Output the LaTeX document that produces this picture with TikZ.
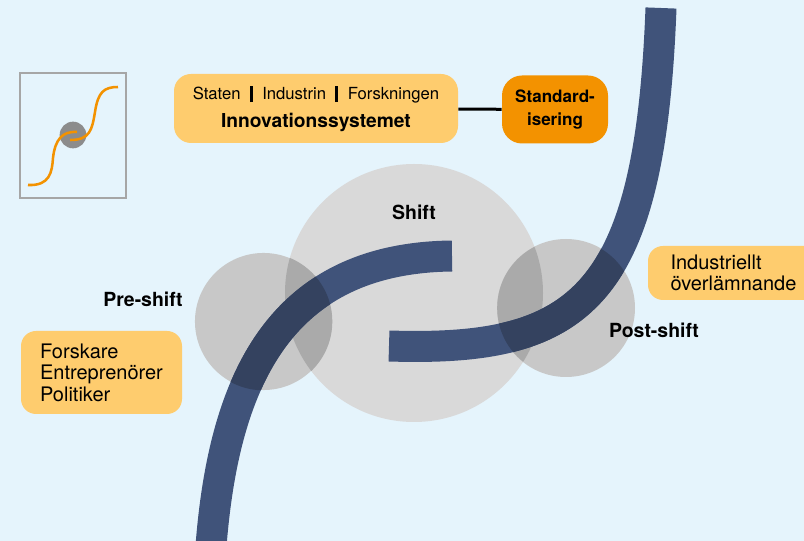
\documentclass[tikz,border=0pt]{standalone}
\usepackage{fontspec}
\setmainfont{TeX Gyre Heros}
\usetikzlibrary{positioning}

\definecolor{bgblue}{RGB}{229,244,252}
\definecolor{boxyellow}{RGB}{254,204,110}
\definecolor{stdorange}{RGB}{243,146,0}
\definecolor{bandblue}{RGB}{64,83,122}
\definecolor{banddark}{RGB}{52,66,95}
\definecolor{shiftgray}{RGB}{217,217,217}
\definecolor{phasegray}{RGB}{200,200,200}
\definecolor{overlapgray}{RGB}{170,170,170}
\definecolor{framegray}{RGB}{166,166,166}
\definecolor{dotgray}{RGB}{140,140,140}

\newcommand{\barsep}{\hspace{7pt}\rule[-2pt]{2.25pt}{12.4pt}\hspace{7pt}}
\newcommand{\bandA}{(211,546) .. controls (224,380) and (280,258) .. (452,256)}
\newcommand{\bandB}{(389,346) .. controls (580,352) and (650,300) .. (661,8)}

\begin{document}
\begin{tikzpicture}[x=0.75pt, y=-0.75pt,
  box/.style={fill=boxyellow, rounded corners=11.25pt, align=left,
              font=\fontsize{15}{16.2}\selectfont},
  stdbox/.style={fill=stdorange, rounded corners=15pt, align=center,
                 minimum width=79.5pt, minimum height=51pt,
                 font=\bfseries\fontsize{12.8}{17}\selectfont},
  phase/.style={font=\bfseries\fontsize{14.6}{16}\selectfont},
  band/.style={line width=23.25pt, bandblue},
  link/.style={line width=2.25pt, black},
  curve/.style={line width=1.9pt, stdorange}
]
\useasboundingbox (0,0) rectangle (804,541);
\clip (0,0) rectangle (804,541);
\fill[bgblue] (0,0) rectangle (804,541);

% small s-curve icon
\draw[framegray, line width=1.1pt] (20,73) rectangle (126,198);
\fill[dotgray] (73,135) circle[radius=10pt];
\draw[curve] (28,185) .. controls (50,186) and (52,172) .. (53,158)
  .. controls (55,140) and (62,131) .. (77,132);
\draw[curve] (70,140) .. controls (90,140) and (92,130) .. (95,112)
  .. controls (98,92) and (104,87) .. (118,87);

% actors and systems
\node[box, rounded corners=12.75pt, align=center, minimum width=213pt,
      minimum height=51.75pt] (innov) at (316,108.5)
  {{\fontsize{12.5}{15}\selectfont Staten\barsep Industrin\barsep Forskningen}\\[4.5pt]
   \textbf{\fontsize{14.4}{17}\selectfont Innovationssystemet}};
\node[stdbox] (standard) at (555,109.5) {Standard-\\isering};
\draw[link] (innov) -- (standard);

\node[box, minimum width=120.75pt, minimum height=62.25pt] (actors) at (101.5,372.5)
  {Forskare\\Entreprenörer\\Politiker};
\node[box, minimum width=128.25pt, minimum height=40.5pt] (handover) at (733.5,273)
  {Industriellt\\överlämnande};

% shift phases
\coordinate (shiftc) at (414,293);
\coordinate (prec) at (263.5,321.5);
\coordinate (postc) at (566,308);
\fill[shiftgray] (shiftc) circle[radius=96.75pt];
\fill[phasegray] (prec) circle[radius=51.4pt];
\fill[phasegray] (postc) circle[radius=51.75pt];
\foreach \c in {prec,postc}{
  \begin{scope}
    \clip (\c) circle[radius=51.6pt];
    \fill[overlapgray] (shiftc) circle[radius=96.75pt];
  \end{scope}
}

% technology bands
\draw[band] \bandA;
\draw[band] \bandB;
\foreach \c in {prec,postc}{
  \begin{scope}
    \clip (\c) circle[radius=51.6pt];
    \draw[band, banddark] \bandA;
    \draw[band, banddark] \bandB;
  \end{scope}
}

\node[phase] (shiftlbl) at (414,212) {Shift};
\node[phase] (prelbl) at (143,299) {Pre-shift};
\node[phase] (postlbl) at (654,330) {Post-shift};
\end{tikzpicture}
\end{document}
